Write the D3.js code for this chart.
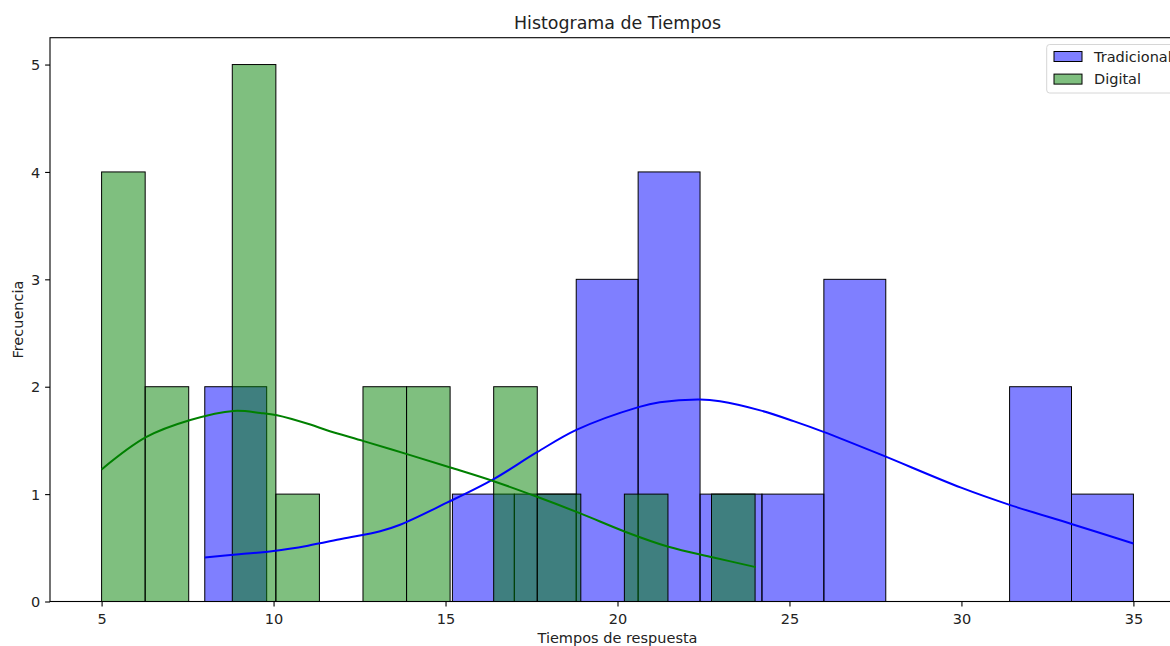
<!DOCTYPE html>
<html>
<head>
<meta charset="utf-8">
<script src="https://cdn.jsdelivr.net/npm/d3@7"></script>
<style>
  html, body { margin: 0; padding: 0; background: #fff; }
  svg { display: block; font-family: "DejaVu Sans", sans-serif; }
</style>
</head>
<body>
<svg id="chart" width="1170" height="646"></svg>
<script>
// ---- Data ----
const seriesNames = ["Tradicional", "Digital"];
const tradEdges = [8.0, 9.8, 11.6, 13.4, 15.2, 17.0, 18.8, 20.6, 22.4, 24.2, 26.0, 27.8, 29.6, 31.4, 33.2, 35.0];
const tradCounts = [2, 0, 0, 0, 1, 1, 3, 4, 1, 1, 3, 0, 0, 2, 1];
const digEdges = [5.0, 6.267, 7.533, 8.8, 10.067, 11.333, 12.6, 13.867, 15.133, 16.4, 17.667, 18.933, 20.2, 21.467, 22.733, 24.0];
const digCounts = [4, 2, 0, 5, 1, 0, 2, 2, 0, 2, 1, 0, 1, 0, 1];
const tradKdeX = [8, 9, 10, 11, 12, 13.1, 13.68, 15.04, 16.4, 17.66, 18.82, 20.61, 21.23, 22.4, 22.98, 24.15, 25.12, 25.99, 27.64, 29.99, 31.4, 33.22, 35];
const tradKdeY = [0.41, 0.44, 0.47, 0.52, 0.585, 0.655, 0.715, 0.92, 1.14, 1.39, 1.60, 1.81, 1.855, 1.881, 1.865, 1.78, 1.68, 1.58, 1.37, 1.06, 0.90, 0.72, 0.54];
const digKdeX = [5, 6.29, 7.58, 8.84, 9.62, 10.1, 11.07, 11.55, 12.62, 13.88, 15.14, 16.4, 17.66, 18.92, 20.22, 21.48, 22.79, 24.02];
const digKdeY = [1.23, 1.53, 1.69, 1.775, 1.756, 1.735, 1.648, 1.595, 1.493, 1.372, 1.248, 1.12, 0.975, 0.82, 0.65, 0.51, 0.41, 0.32];
const xTicks = [5, 10, 15, 20, 25, 30, 35];
const yTicks = [0, 1, 2, 3, 4, 5];
const titleText = "Histograma de Tiempos";
const xLabel = "Tiempos de respuesta";
const yLabel = "Frecuencia";

// ---- Layout ----
const pLeft = 50, pTop = 37.7, pRight = 1185, pBottom = 601.5;
const fs = "14.5px";
const svg = d3.select("#chart");
const x = d3.scaleLinear().domain([3.5, 36.5]).range([pLeft, pRight]);
const y = d3.scaleLinear().domain([0, 5.25]).range([pBottom, pTop]);

const styles = [
  { fill: "rgba(0,0,255,0.5)", line: "#0000ff" },
  { fill: "rgba(0,128,0,0.5)", line: "#008000" }
];

function bins(edges, counts) {
  return counts.map((c, i) => ({ x0: edges[i], x1: edges[i + 1], c }));
}
const hist = [bins(tradEdges, tradCounts), bins(digEdges, digCounts)];
const kdes = [tradKdeX.map((v, i) => [v, tradKdeY[i]]), digKdeX.map((v, i) => [v, digKdeY[i]])];

// bars
hist.forEach((b, si) => {
  svg.append("g").selectAll("rect").data(b.filter(d => d.c > 0)).join("rect")
    .attr("x", d => x(d.x0))
    .attr("y", d => y(d.c))
    .attr("width", d => x(d.x1) - x(d.x0))
    .attr("height", d => y(0) - y(d.c))
    .attr("fill", styles[si].fill)
    .attr("stroke", "#000")
    .attr("stroke-width", 1);
});

// kde lines
const line = d3.line().x(d => x(d[0])).y(d => y(d[1])).curve(d3.curveCatmullRom.alpha(0.5));
kdes.forEach((k, si) => {
  svg.append("path").attr("d", line(k)).attr("fill", "none")
    .attr("stroke", styles[si].line).attr("stroke-width", 2);
});

// axes
const xAxis = d3.axisBottom(x).tickValues(xTicks).tickSize(4.9).tickPadding(4.9).tickFormat(d3.format("d"));
const yAxis = d3.axisLeft(y).tickValues(yTicks).tickSize(4.9).tickPadding(4.9).tickFormat(d3.format("d"));
const gx = svg.append("g").attr("transform", `translate(0,${pBottom})`).call(xAxis);
const gy = svg.append("g").attr("transform", `translate(${pLeft},0)`).call(yAxis);
[gx, gy].forEach(g => {
  g.select(".domain").remove();
  g.selectAll("line").attr("stroke", "#000").attr("stroke-width", 1.1);
  g.selectAll("text").attr("fill", "#222").style("font-size", fs).style("font-family", "DejaVu Sans");
});
gx.selectAll("text").attr("dy", null).attr("y", 22);
gy.selectAll("text").attr("dy", null).attr("y", 5.2);

// spines
svg.append("rect").attr("x", pLeft).attr("y", pTop).attr("width", pRight - pLeft).attr("height", pBottom - pTop)
  .attr("fill", "none").attr("stroke", "#000").attr("stroke-width", 1.1);

// title and labels
svg.append("text").attr("x", (pLeft + pRight) / 2).attr("y", 29.3).attr("text-anchor", "middle")
  .style("font-size", "17.4px").attr("fill", "#222").text(titleText);
svg.append("text").attr("x", (pLeft + pRight) / 2).attr("y", 643).attr("text-anchor", "middle")
  .style("font-size", fs).attr("fill", "#222").text(xLabel);
svg.append("text").attr("transform", `translate(22.5,${(pTop + pBottom) / 2}) rotate(-90)`)
  .attr("text-anchor", "middle").style("font-size", fs).attr("fill", "#222").text(yLabel);

// legend
const lg = svg.append("g");
lg.append("rect").attr("x", 1046.7).attr("y", 44.5).attr("width", 131).attr("height", 48.5)
  .attr("rx", 3).attr("fill", "rgba(255,255,255,0.8)").attr("stroke", "#d6d6d6").attr("stroke-width", 1);
seriesNames.forEach((name, i) => {
  const yy = 51.5 + i * 22.6;
  lg.append("rect").attr("x", 1054).attr("y", yy).attr("width", 28).attr("height", 10)
    .attr("fill", styles[i].fill).attr("stroke", "#000").attr("stroke-width", 1);
  lg.append("text").attr("x", 1094).attr("y", 61.8 + i * 22.6)
    .style("font-size", fs).attr("fill", "#222").text(name);
});
</script>
</body>
</html>
